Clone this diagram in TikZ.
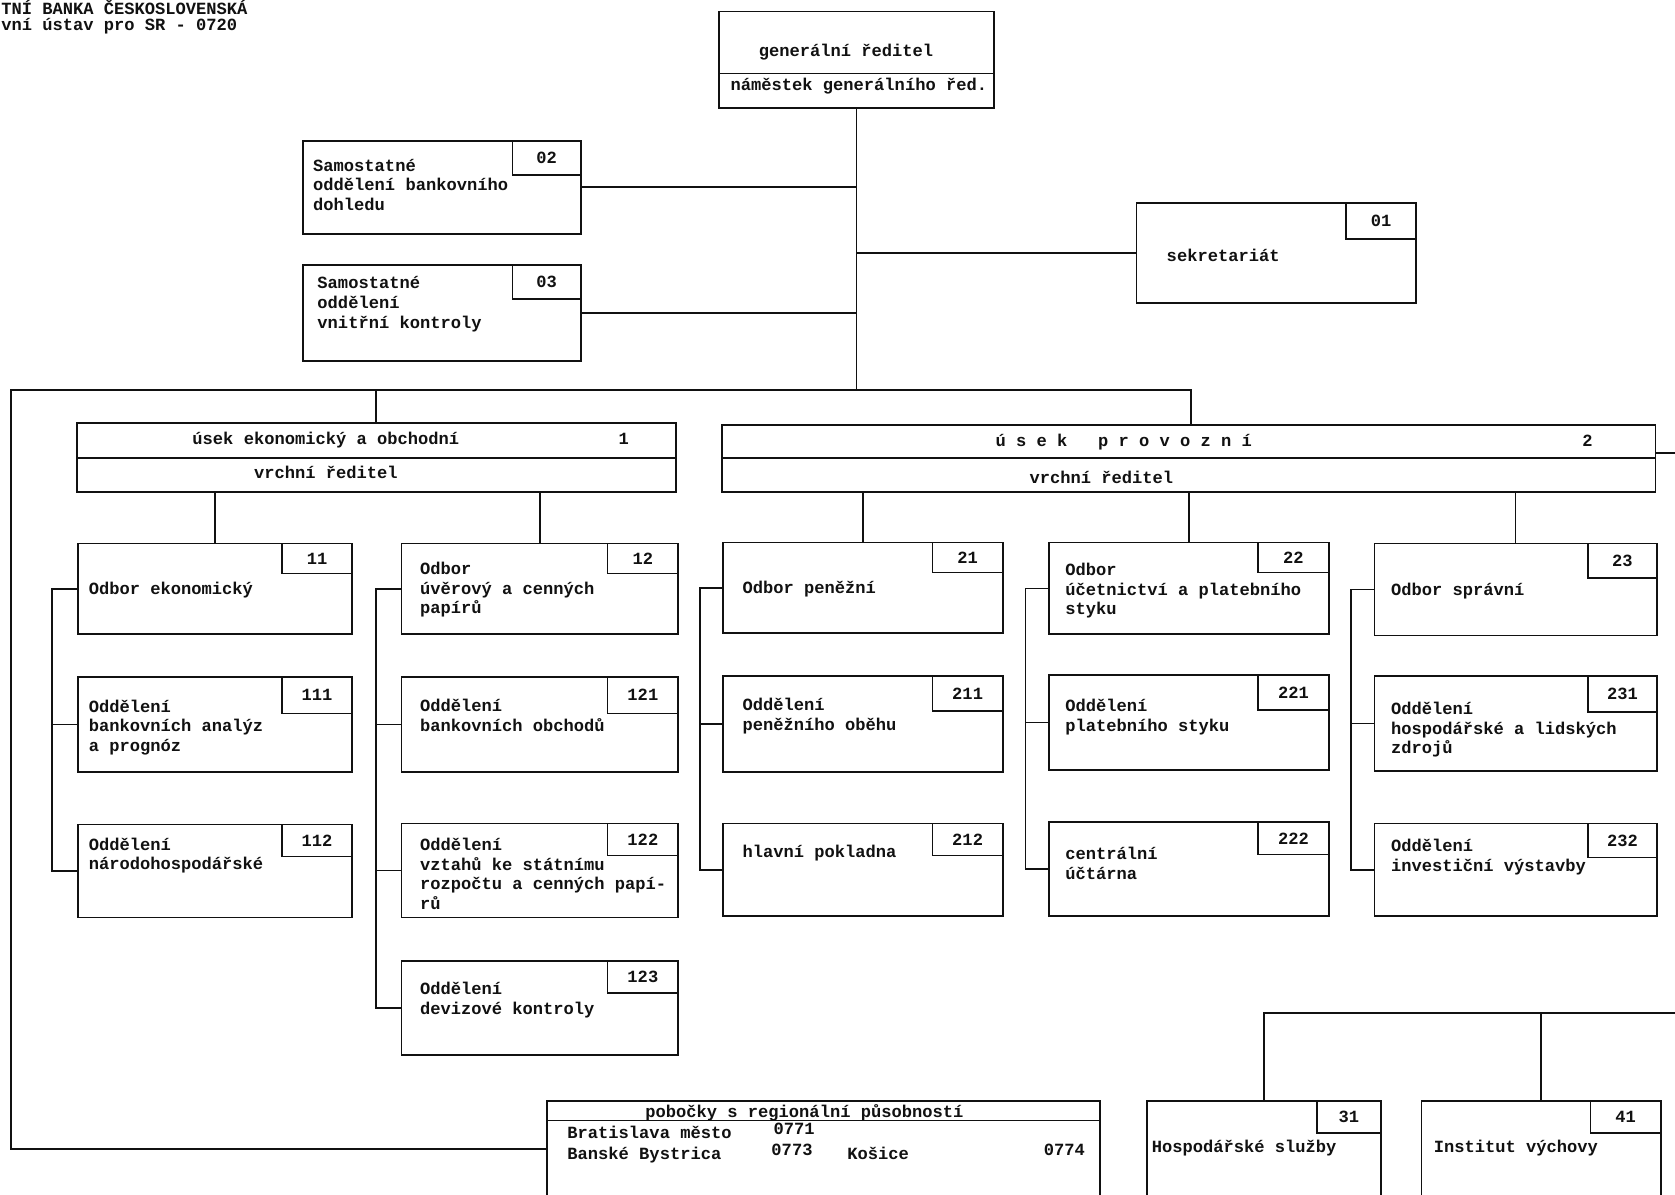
\documentclass[tikz,border=0pt]{standalone}
\usepackage{fontspec}
\setmonofont{Liberation Mono}
\usetikzlibrary{positioning,calc}
\definecolor{scanInk}{HTML}{111111}
\newcommand{\typefont}{\ttfamily\bfseries\fontsize{16pt}{18.5pt}\selectfont}
\tikzset{
  unit/.style={draw=scanInk, line width=1.6pt, fill=white, anchor=north west, inner sep=0pt},
  numtab/.style={draw=scanInk, line width=1.6pt, anchor=north east, inner sep=0pt, minimum width=66pt, minimum height=30pt, font=\typefont, text=scanInk},
  lbl/.style={anchor=west, align=left, inner sep=0pt, font=\typefont, text=scanInk},
  ctr/.style={anchor=center, inner sep=0pt, font=\typefont, text=scanInk},
  link/.style={draw=scanInk, line width=1.6pt},
}
\begin{document}
\begin{tikzpicture}[x=1pt, y=-1pt]
    \path[use as bounding box, fill=white] (0,0) rectangle (1568,1118);
    % ---------- header ----------
    \node[ctr, anchor=base west] (hdrA) at (1,14) {TNÍ BANKA ČESKOSLOVENSKÁ};
    \node[ctr, anchor=base west] (hdrB) at (1,29) {vní ústav pro SR - 0720};
    % ---------- general director ----------
    \node[unit, minimum width=258pt, minimum height=58pt] (grA) at (672,10) {};
    \node[unit, minimum width=258pt, minimum height=32pt] (grB) at (672,68) {};
    \node[ctr] (grAt) at (792,49) {generální ředitel};
    \node[ctr] (grBt) at (804,81) {náměstek generálního řed.};
    % ---------- staff units ----------
    \node[unit, minimum width=260pt, minimum height=87pt] (b02) at (283,131) {};
    \node[numtab, minimum width=64pt, minimum height=32pt] (n02) at (b02.north east) {02};
    \node[lbl] (t02) at (293,173) {Samostatné\\oddělení bankovního\\dohledu};
    \node[unit, minimum width=260pt, minimum height=90pt] (b03) at (283,247) {};
    \node[numtab, minimum width=64pt, minimum height=32pt] (n03) at (b03.north east) {03};
    \node[lbl] (t03) at (297,285) {Samostatné\\oddělení\\vnitřní kontroly};
    \node[unit, minimum width=262pt, minimum height=94pt] (b01) at (1063,189) {};
    \node[numtab, minimum height=34pt] (n01) at (b01.north east) {01};
    \node[lbl] (t01) at (1092,239) {sekretariát};
    \coordinate (busL) at (10,365);
    \coordinate (busR) at (1115,365);
    \draw[link] (grB.south) -- (grB.south |- busR);
    \draw[link] (b02.east) -- (b02.east -| grB.south);
    \draw[link] (b03.east) -- (b03.east -| grB.south);
    \draw[link] (b01.west) -- (b01.west -| grB.south);
    % ---------- divisions ----------
    \node[unit, minimum width=561pt, minimum height=33pt] (u1a) at (71,395) {};
    \node[unit, minimum width=561pt, minimum height=32pt] (u1b) at (71,428) {};
    \node[ctr] (u1at) at (305,412) {úsek ekonomický a obchodní};
    \node[ctr] (u1an) at (584,411) {1};
    \node[ctr] (u1bt) at (305,442) {vrchní ředitel};
    \node[unit, minimum width=874pt, minimum height=31pt] (u2a) at (675,397) {};
    \node[unit, minimum width=874pt, minimum height=32pt] (u2b) at (675,428) {};
    \node[ctr] (u2at) at (1052,414) {ú s e k\ \ \ p r o v o z n í};
    \node[ctr] (u2an) at (1486,413) {2};
    \node[ctr] (u2bt) at (1031,447) {vrchní ředitel};
    \coordinate (offA) at (1568,424);
    \draw[link] (u1a.north) -- (u1a.north |- busL);
    \draw[link] (offA -| u2a.east) -- (offA);
    % ---------- division 1 ----------
    \node[unit, minimum width=257pt, minimum height=85pt] (b11) at (72,508) {};
    \node[numtab, minimum height=28pt] (n11) at (b11.north east) {11};
    \node[lbl] (t11) at (83,552) {Odbor ekonomický};
    \node[unit, minimum width=257pt, minimum height=89pt] (b111) at (72,633) {};
    \node[numtab, minimum height=34pt] (n111) at (b111.north east) {111};
    \node[lbl] (t111) at (83,681) {Oddělení\\bankovních analýz\\a prognóz};
    \node[unit, minimum width=257pt, minimum height=87pt] (b112) at (72,771) {};
    \node[numtab] (n112) at (b112.north east) {112};
    \node[lbl] (t112) at (83,801) {Oddělení\\národohospodářské};
    \node[unit, minimum width=259pt, minimum height=85pt] (b12) at (375,508) {};
    \node[numtab, minimum height=28pt] (n12) at (b12.north east) {12};
    \node[lbl] (t12) at (393,552) {Odbor\\úvěrový a cenných\\papírů};
    \node[unit, minimum width=259pt, minimum height=89pt] (b121) at (375,633) {};
    \node[numtab, minimum height=34pt] (n121) at (b121.north east) {121};
    \node[lbl] (t121) at (393,670) {Oddělení\\bankovních obchodů};
    \node[unit, minimum width=259pt, minimum height=88pt] (b122) at (375,770) {};
    \node[numtab] (n122) at (b122.north east) {122};
    \node[lbl] (t122) at (393,818) {Oddělení\\vztahů ke státnímu\\rozpočtu a cenných papí-\\rů};
    \node[unit, minimum width=259pt, minimum height=88pt] (b123) at (375,899) {};
    \node[numtab] (n123) at (b123.north east) {123};
    \node[lbl] (t123) at (393,936) {Oddělení\\devizové kontroly};
    \draw[link] (b11.north) -- (b11.north |- u1b.south);
    \draw[link] (b12.north) -- (b12.north |- u1b.south);
    \draw[link] (b11.west) -| ([xshift=-23pt]b112.west) -- (b112.west);
    \draw[link] (b111.west) -- ++(-23,0);
    \draw[link] (b12.west) -| ([xshift=-23pt]b123.west) -- (b123.west);
    \draw[link] (b121.west) -- ++(-23,0);
    \draw[link] (b122.west) -- ++(-23,0);
    % ---------- division 2 ----------
    \node[unit, minimum width=262pt, minimum height=85pt] (b21) at (676,507) {};
    \node[numtab, minimum height=28pt] (n21) at (b21.north east) {21};
    \node[lbl] (t21) at (695,551) {Odbor peněžní};
    \node[unit, minimum width=262pt, minimum height=90pt] (b211) at (676,632) {};
    \node[numtab, minimum height=33pt] (n211) at (b211.north east) {211};
    \node[lbl] (t211) at (695,670) {Oddělení\\peněžního oběhu};
    \node[unit, minimum width=262pt, minimum height=87pt] (b212) at (676,770) {};
    \node[numtab] (n212) at (b212.north east) {212};
    \node[lbl] (t212) at (695,799) {hlavní pokladna};
    \node[unit, minimum width=262pt, minimum height=86pt] (b22) at (981,507) {};
    \node[numtab, minimum height=28pt] (n22) at (b22.north east) {22};
    \node[lbl] (t22) at (997,553) {Odbor\\účetnictví a platebního\\styku};
    \node[unit, minimum width=262pt, minimum height=89pt] (b221) at (981,631) {};
    \node[numtab, minimum height=33pt] (n221) at (b221.north east) {221};
    \node[lbl] (t221) at (997,671) {Oddělení\\platebního styku};
    \node[unit, minimum width=262pt, minimum height=88pt] (b222) at (981,769) {};
    \node[numtab] (n222) at (b222.north east) {222};
    \node[lbl] (t222) at (997,808) {centrální\\účtárna};
    \node[unit, minimum width=264pt, minimum height=86pt] (b23) at (1286,508) {};
    \node[numtab, minimum width=64pt, minimum height=32pt] (n23) at (b23.north east) {23};
    \node[lbl] (t23) at (1302,553) {Odbor správní};
    \node[unit, minimum width=264pt, minimum height=89pt] (b231) at (1286,632) {};
    \node[numtab, minimum width=64pt, minimum height=34pt] (n231) at (b231.north east) {231};
    \node[lbl] (t231) at (1302,683) {Oddělení\\hospodářské a lidských\\zdrojů};
    \node[unit, minimum width=264pt, minimum height=87pt] (b232) at (1286,770) {};
    \node[numtab, minimum width=64pt, minimum height=32pt] (n232) at (b232.north east) {232};
    \node[lbl] (t232) at (1302,802) {Oddělení\\investiční výstavby};
    \draw[link] (b21.north) -- (b21.north |- u2b.south);
    \draw[link] (b22.north) -- (b22.north |- u2b.south);
    \draw[link] (b23.north) -- (b23.north |- u2b.south);
    \draw[link] (b21.west) -| ([xshift=-21pt]b212.west) -- (b212.west);
    \draw[link] (b211.west) -- ++(-21,0);
    \draw[link] (b22.west) -| ([xshift=-21pt]b222.west) -- (b222.west);
    \draw[link] (b221.west) -- ++(-21,0);
    \draw[link] (b23.west) -| ([xshift=-21pt]b232.west) -- (b232.west);
    \draw[link] (b231.west) -- ++(-21,0);
    % ---------- branches ----------
    \node[unit, minimum width=518pt, minimum height=90pt] (pob) at (511,1030) {};
    \node[unit, minimum width=518pt, minimum height=18pt] (pobH) at (511,1030) {};
    \node[ctr, anchor=base] (pobHt) at (753,1046) {pobočky s regionální působností};
    \node[lbl, anchor=base west] (pobBa) at (531,1066) {Bratislava město};
    \node[lbl, anchor=base west] (pobBaN) at (724,1062) {0771};
    \node[lbl, anchor=base west] (pobBb) at (531,1085) {Banské Bystrica};
    \node[lbl, anchor=base west] (pobBbN) at (722,1082) {0773};
    \node[lbl, anchor=base west] (pobKe) at (793,1085) {Košice};
    \node[lbl, anchor=base west] (pobKeN) at (977,1082) {0774};
    \draw[link] (pob.west) -| (busL) -- (busR) -- (busR |- u2a.north);
    % ---------- services ----------
    \node[unit, minimum width=219pt, minimum height=90pt] (b31) at (1073,1030) {};
    \node[numtab, minimum width=60pt] (n31) at (b31.north east) {31};
    \node[lbl] (t31) at (1078,1075) {Hospodářské služby};
    \node[unit, minimum width=224pt, minimum height=90pt] (b41) at (1330,1030) {};
    \node[numtab] (n41) at (b41.north east) {41};
    \node[lbl] (t41) at (1342,1075) {Institut výchovy};
    \coordinate (offB) at (1568,948);
    \draw[link] (b31.north) |- (offB);
    \draw[link] (b41.north) -- (b41.north |- offB);
\end{tikzpicture}
\end{document}
